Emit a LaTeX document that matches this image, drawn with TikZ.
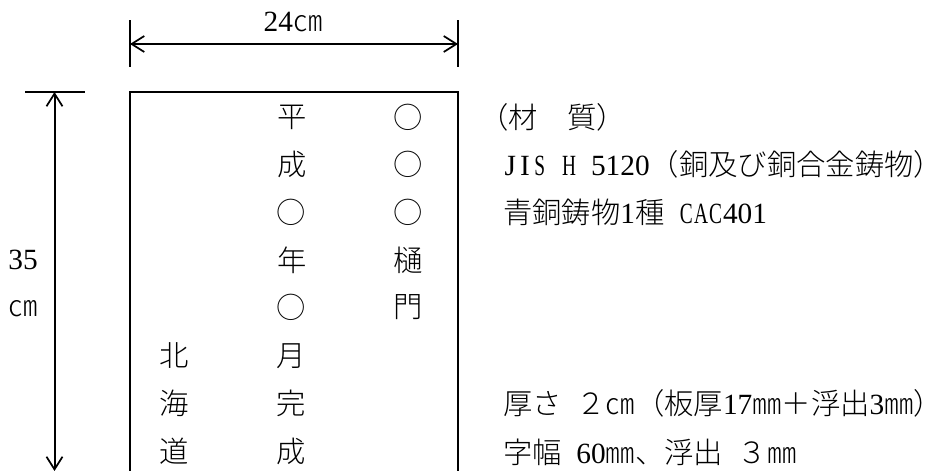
\documentclass[tikz,border=0pt]{standalone}
\usepackage{fontspec}
\usepackage{graphicx}
\setmainfont{Noto Sans CJK JP}[UprightFont=* Light]
\newfontfamily\latfont{Liberation Serif}
\newcommand{\hb}[1]{\makebox[0.5em][c]{\latfont #1}}
\newcommand{\hc}[1]{\makebox[0.5em][c]{\scalebox{0.66}[1]{\latfont #1}}}
\newcommand{\hclose}{\makebox[0.5em][l]{）}}
\usetikzlibrary{arrows.meta}
\tikzset{
  txt/.style={inner sep=0pt,outer sep=0pt,font=\fontsize{22}{22}\selectfont,text=black},
  cell/.style={txt,anchor=center},
  line/.style={txt,anchor=west},
  rule/.style={draw=black,line width=1.5pt},
  dim/.style={rule,{Straight Barb[length=9.5pt,width=12pt,line width=1.3pt]}-{Straight Barb[length=9.5pt,width=12pt,line width=1.3pt]}}
}
\begin{document}
\begin{tikzpicture}[x=0.75pt,y=-0.75pt]
\useasboundingbox[fill=white] (0,0) rectangle (928,471);
% plate
\coordinate (bl) at (130,471);
\coordinate (tl) at (130,92);
\coordinate (tr) at (458,92);
\coordinate (br) at (458,471);
\draw[rule,line cap=butt] (bl) -- (tl) -- (tr) -- (br);
% width dimension
\coordinate (wla) at (130,20);
\coordinate (wlb) at (130,67);
\coordinate (wra) at (458,20);
\coordinate (wrb) at (458,67);
\coordinate (wl) at (130,44);
\coordinate (wr) at (458,44);
\draw[rule] (wla) -- (wlb);
\draw[rule] (wra) -- (wrb);
\draw[dim] (wl) -- (wr);
\node[cell] (w) at (293,22) {\hb{2}\hb{4}㎝};
% height dimension
\coordinate (hta) at (25,92);
\coordinate (htb) at (85,92);
\coordinate (ht) at (54.5,92);
\coordinate (hb) at (54.5,471);
\draw[rule] (hta) -- (htb);
\draw[dim] (ht) -- (hb);
\node[cell] (h1) at (23,260) {\hb{3}\hb{5}};
\node[cell] (h2) at (23,309) {㎝};
% plate text
\node[cell] (a1) at (292,117) {平};
\node[cell] (a2) at (292,164) {成};
\node[cell] (a3) at (291,212) {○};
\node[cell] (a4) at (292,260) {年};
\node[cell] (a5) at (291,307) {○};
\node[cell] (a6) at (291,356) {月};
\node[cell] (a7) at (291,403) {完};
\node[cell] (a8) at (291,451) {成};
\node[cell] (b1) at (408,117) {○};
\node[cell] (b2) at (408,164) {○};
\node[cell] (b3) at (408,212) {○};
\node[cell] (b4) at (408,260) {樋};
\node[cell] (b5) at (408,307) {門};
\node[cell] (c1) at (174,356) {北};
\node[cell] (c2) at (174,403) {海};
\node[cell] (c3) at (174,451) {道};
% specification text
\node[line] (s1) at (479,117) {（材　質）};
\node[line] (s2) at (503,164) {\hb{J}\hb{I}\hc{S}\hb{ }\hc{H}\hb{ }\hb{5}\hb{1}\hb{2}\hb{0}（銅及び銅合金鋳物\hclose};
\node[line] (s3) at (503,212) {青銅鋳物\hb{1}種\hb{ }\hc{C}\hc{A}\hc{C}\hb{4}\hb{0}\hb{1}};
\node[line] (s4) at (503,403) {厚さ\hb{ }２㎝（板厚\hb{1}\hb{7}㎜＋浮出\hb{3}㎜\hclose};
\node[line] (s5) at (503,452) {字幅\hb{ }\hb{6}\hb{0}㎜、浮出\hb{ }３㎜};
\end{tikzpicture}
\end{document}
